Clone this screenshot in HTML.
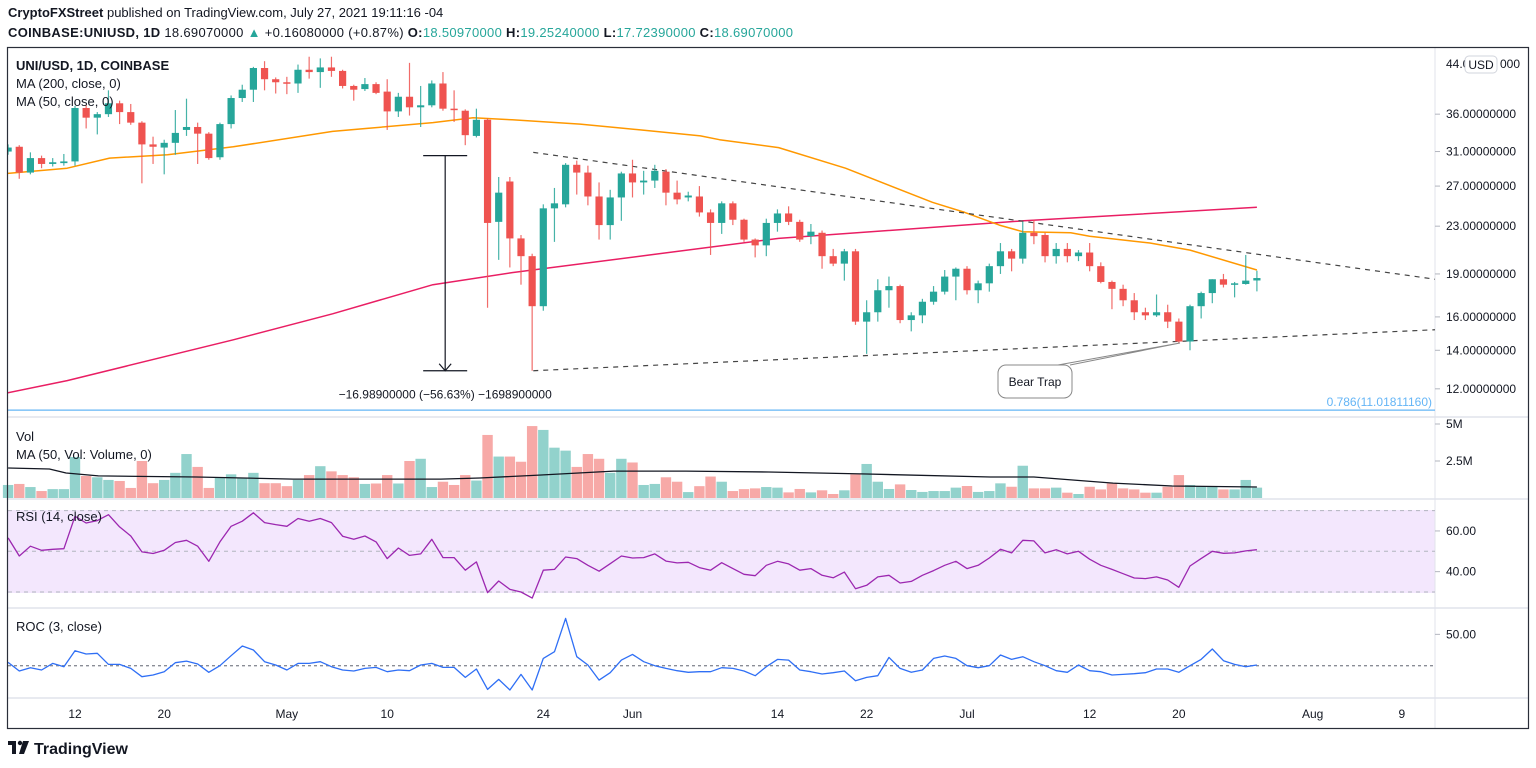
<!DOCTYPE html>
<html><head><meta charset="utf-8"><style>
html,body{margin:0;padding:0;background:#fff;}
svg{display:block;font-family:"Liberation Sans",sans-serif;}
</style></head><body>
<svg id="chart" width="1536" height="768" viewBox="0 0 1536 768" xmlns="http://www.w3.org/2000/svg">
<rect x="0" y="0" width="1536" height="768" fill="#fff"/>
<text x="8" y="17" font-size="13" fill="#131722"><tspan font-weight="bold">CryptoFXStreet</tspan> published on TradingView.com, July 27, 2021 19:11:16 -04</text>
<text x="8" y="37" font-size="13" fill="#131722" textLength="785" lengthAdjust="spacing"><tspan font-weight="bold">COINBASE:UNIUSD, 1D</tspan> 18.69070000 <tspan fill="#26a69a">▲</tspan> +0.16080000 (+0.87%) <tspan font-weight="bold">O:</tspan><tspan fill="#26a69a">18.50970000</tspan> <tspan font-weight="bold">H:</tspan><tspan fill="#26a69a">19.25240000</tspan> <tspan font-weight="bold">L:</tspan><tspan fill="#26a69a">17.72390000</tspan> <tspan font-weight="bold">C:</tspan><tspan fill="#26a69a">18.69070000</tspan></text>
<g id="grid"></g>
<g id="main" clip-path="url(#mainclip)"></g>
<g id="lower"></g>
<g id="axes"></g>
<defs><clipPath id="mainclip"><rect x="8" y="48" width="1427" height="368"/></clipPath></defs>
<rect x="7.5" y="47.5" width="1521" height="681" fill="none" stroke="#2a2e39" stroke-width="1.2"/>
<text x="16" y="70" font-size="13" font-weight="bold" fill="#131722">UNI/USD, 1D, COINBASE</text>
<text x="16" y="88" font-size="13" fill="#131722">MA (200, close, 0)</text>
<text x="16" y="106" font-size="13" fill="#131722">MA (50, close, 0)</text>
<text x="16" y="441" font-size="13" fill="#131722">Vol</text>
<text x="16" y="459" font-size="13" fill="#131722">MA (50, Vol: Volume, 0)</text>
<text x="16" y="521" font-size="13" fill="#131722">RSI (14, close)</text>
<text x="16" y="631" font-size="13" fill="#131722">ROC (3, close)</text>
<g><rect x="1465" y="56" width="32" height="17" rx="4" fill="#fff" stroke="#d1d4dc"/><text x="1481" y="69" font-size="12" text-anchor="middle" fill="#131722">USD</text></g>
<g>
<path d="M1058 365 L1180 343 L1070 365" fill="#fff" stroke="#888" stroke-width="1"/>
<rect x="998" y="365" width="74" height="33" rx="8" fill="#fff" stroke="#888"/>
<text x="1035" y="386" font-size="12" text-anchor="middle" fill="#131722">Bear Trap</text>
</g>
<g>
<rect x="8" y="741" width="8" height="4" fill="#131722"/><rect x="12" y="741" width="4" height="13" fill="#131722"/><circle cx="20" cy="743" r="2.2" fill="#131722"/><path d="M23 741 L29 741 L24 754 L19 754 Z" fill="#131722"/>
<text x="34" y="754" font-size="16" font-weight="bold" fill="#131722">TradingView</text>
</g>
</svg>
<script>
const opens=[31.0,31.6,28.5,30.2,29.5,29.6,29.8,36.9,35.5,36.0,37.6,36.3,34.8,31.9,31.5,32.1,33.8,34.2,33.3,30.3,34.6,38.4,39.7,43.3,41.4,40.9,40.7,43.0,42.6,43.4,42.8,40.3,39.8,40.6,39.4,36.4,38.6,37.0,37.3,40.7,36.8,36.5,33.0,35.2,23.4,27.5,21.9,20.4,16.7,24.7,25.1,29.4,28.5,25.9,23.1,25.8,28.4,27.4,27.6,28.6,26.3,25.8,25.9,24.3,23.3,25.2,23.6,21.8,21.3,23.3,24.2,23.4,22.1,22.4,20.4,19.8,20.8,15.7,16.3,17.8,18.1,15.8,16.1,17.0,17.7,18.8,19.4,17.8,18.3,19.6,20.8,20.2,22.4,22.2,20.4,21.0,20.4,20.7,19.6,18.4,17.9,17.1,16.3,16.1,16.3,15.7,14.5,16.7,17.6,18.6,18.2,18.25,18.51];
const closes=[31.5,28.5,30.2,29.5,29.7,29.8,36.9,35.5,36.0,37.6,36.3,34.8,31.9,31.6,32.1,33.4,34.2,33.3,30.2,34.6,38.4,39.7,43.3,41.4,40.9,40.7,43.0,42.6,43.4,42.8,40.3,39.7,40.6,39.2,36.4,38.6,37.0,37.3,40.7,36.8,36.6,33.1,35.2,23.3,26.3,21.9,20.4,16.7,24.7,25.2,29.4,28.5,25.9,23.1,25.8,28.4,27.4,27.6,28.7,26.3,25.6,26.0,24.3,23.3,25.2,23.6,21.8,21.3,23.3,24.2,23.4,21.8,22.5,20.4,19.8,20.8,15.7,16.3,17.8,18.1,15.8,16.1,17.0,17.7,18.8,19.4,17.8,18.3,19.6,20.8,20.2,22.4,22.1,20.4,21.0,20.4,20.7,19.6,18.4,17.9,17.1,16.3,16.1,16.3,15.7,14.5,16.7,17.6,18.6,18.2,18.3,18.5,18.69];
const highs=[31.9,31.8,30.9,30.5,30.2,30.7,37.2,37.3,36.3,39.6,38.0,37.5,35.0,32.9,32.5,36.6,38.3,34.8,33.5,34.8,38.8,40.5,43.5,44.5,41.7,41.8,43.9,45.3,45.0,45.3,43.0,40.5,41.6,40.9,41.4,39.2,44.2,40.3,41.2,42.6,39.6,36.7,36.8,35.4,28.0,28.0,22.2,20.6,25.1,26.8,29.6,29.9,29.3,27.4,26.6,28.6,30.0,28.7,29.4,28.9,27.6,26.4,27.0,24.6,25.4,25.4,23.7,21.9,23.7,24.6,24.9,23.6,23.2,22.6,21.0,21.0,21.0,17.1,18.6,18.8,18.2,16.3,17.2,18.1,19.3,19.5,19.6,18.5,19.8,21.5,21.0,23.4,23.6,22.4,21.5,21.5,20.9,21.5,19.9,18.5,18.2,17.6,16.6,17.5,16.8,15.9,16.8,17.7,18.6,19.0,18.4,20.5,19.25];
const lows=[30.6,27.8,28.3,29.0,29.2,29.3,29.3,34.0,33.2,35.6,34.6,34.5,27.3,29.5,28.3,30.6,33.0,29.5,30.0,30.0,34.0,37.8,37.8,39.6,39.1,39.0,39.2,41.5,40.0,41.8,39.9,38.0,39.5,39.0,33.8,35.6,35.8,34.2,37.0,36.5,34.9,31.8,32.8,16.6,20.1,19.5,18.2,12.9,16.4,21.6,24.8,26.1,25.0,21.8,21.8,23.5,25.8,26.1,26.8,25.0,25.1,25.4,23.9,20.5,22.3,23.1,21.6,20.3,20.4,22.5,23.1,21.6,21.4,19.4,19.6,18.5,15.5,13.8,15.7,16.6,15.6,15.1,15.6,16.8,17.5,17.1,17.5,16.9,17.7,19.0,19.2,19.8,21.4,19.9,19.8,19.9,20.0,19.2,18.3,16.5,16.7,15.8,15.8,16.0,15.3,14.4,14.0,15.9,16.9,18.0,17.3,18.2,17.72];
const volumes=[0.88,0.95,0.74,0.47,0.6,0.6,2.77,1.49,1.4,1.22,1.15,0.68,2.5,1.0,1.22,1.7,2.97,2.1,0.68,1.4,1.6,1.35,1.7,1.0,1.0,0.8,1.22,1.55,2.15,1.8,1.55,1.4,0.95,0.98,1.55,0.98,2.5,2.65,0.74,1.1,0.88,1.55,1.18,4.26,2.8,2.8,2.45,4.86,4.6,3.4,3.2,2.1,2.97,2.65,1.7,2.65,2.4,0.88,0.95,1.4,1.1,0.4,0.8,1.45,1.1,0.47,0.6,0.65,0.74,0.70,0.38,0.61,0.38,0.52,0.27,0.52,1.6,2.3,1.1,0.61,0.92,0.54,0.41,0.47,0.47,0.70,0.81,0.41,0.47,0.99,0.76,2.18,0.65,0.65,0.70,0.36,0.27,0.76,0.58,0.99,0.65,0.58,0.36,0.36,0.76,1.55,0.88,0.81,0.81,0.58,0.58,1.22,0.70];
const rsiValues=[56.6,47.7,52.5,50.5,51.0,51.3,67.2,63.9,65.1,68.0,62.0,57.5,49.7,48.9,50.5,54.3,55.4,52.5,45.1,54.6,62.3,64.8,68.9,64.1,63.1,62.3,66.1,64.8,66.1,64.1,57.4,55.9,57.5,54.6,46.4,51.6,48.0,48.7,55.9,46.9,46.9,40.7,44.8,29.7,35.4,31.3,30.0,27.0,40.7,41.1,47.2,46.4,43.1,40.2,43.9,47.7,46.7,46.9,48.7,45.2,44.3,44.6,42.0,40.7,44.4,41.5,38.7,38.0,43.1,45.1,43.8,40.7,41.5,38.2,37.0,39.8,31.6,33.3,37.4,38.2,34.4,35.2,38.2,40.5,43.1,45.1,41.5,43.1,46.7,51.0,49.2,55.4,55.1,49.2,50.8,48.7,50.0,46.1,43.1,41.1,39.0,36.9,36.6,37.4,35.9,32.3,42.8,46.4,50.0,49.0,49.2,50.2,50.8];
const rocValues=[5.3,-8.5,-3.2,-6.9,3.7,-1.6,23.9,18.6,19.7,2.1,2.1,-4.3,-17.6,-14.9,-9.6,4.8,7.4,2.7,-10.6,0,16.0,31.4,25.0,6.4,1.1,-6.9,3.7,3.7,6.4,-1.6,-6.9,-8.5,-4.3,-2.7,-9.6,-6.9,-8.0,1.1,3.7,-2.7,-2.7,-18.6,-5.3,-37.8,-21.8,-38.8,-13.8,-38.8,11.7,22.3,75.5,14.4,1.1,-22.9,-11.2,9.0,18.1,6.4,0,-4.3,-8.0,-10.6,-9.6,-9.6,-3.2,-4.3,-8.5,-16.0,-1.6,10.1,9.0,-6.9,-9.6,-13.3,-11.2,-8.5,-23.9,-18.6,-16.0,13.3,-4.3,-10.6,-6.9,11.7,15.4,11.7,0,-3.2,0,17.0,10.1,14.4,6.4,0,-8.0,-10.6,1.1,-8.0,-9.6,-14.9,-13.8,-12.8,-11.2,-5.3,-5.3,-10.6,0,10.1,26.6,8.0,2.1,-1.6,1.1];
const ma50Days=[-0.1,5.3,9.1,14.3,20.2,29.1,38.1,41.7,45.2,51.3,56.7,62.1,63.8,69.1,75.1,82.9,85.8,88.9,91,95.3,97,102.4,106,112];
const ma50Values=[28.4,29.0,30.2,30.6,31.6,33.6,34.8,35.5,35.2,34.6,33.8,33.0,32.5,31.5,29.0,25.3,24.3,23.1,22.5,22.4,22.1,21.5,20.9,19.3];
const ma200Days=[-0.1,5.3,20.2,29.1,38.1,45.2,69.1,91.1,112];
const ma200Values=[11.8,12.4,14.6,16.2,18.2,19.1,21.9,23.5,24.8];
const volMaDays=[0,3.7,5.2,8.1,16.9,25.6,38.8,42.3,47.6,54.3,60.8,68.2,77,88.1,92,99.1,104.4,112];
const volMaValues=[2.03,1.96,1.69,1.49,1.42,1.28,1.28,1.35,1.55,1.82,1.82,1.76,1.62,1.42,1.42,1.01,0.81,0.74];
const priceTicks=[44,36,31,27,23,19,16,14,12];
const volTicks=[5,2.5];
const volTickLabels=["5M","2.5M"];
const rsiTicks=[60,40];
const rocTicks=[50];
const dateTickDays=[6,14,25,34,48,56,69,77,86,97,105,117,125];
const dateTickLabels=["12","20","May","10","24","Jun","14","22","Jul","12","20","Aug","9"];
const upperTrend=[[47.1,30.9],[128,18.6]];
const lowerTrend=[[47.1,12.9],[128,15.2]];
const measure=[39.2,30.5,12.9];
const fibLevel=11.01811160;

const NS="http://www.w3.org/2000/svg";
const X=d=>8.1+11.15*d;
const YP=p=>64+250*Math.log(44/p);
const YV=v=>498-v*14.8;
const YR=r=>551.3-(r-50)*2.035;
const YC=c=>665.7-c*0.627;
function mk(parent,tag,attrs){const e=document.createElementNS(NS,tag);for(const k in attrs)e.setAttribute(k,attrs[k]);parent.appendChild(e);return e;}
const grid=document.getElementById('grid'),main=document.getElementById('main'),lower=document.getElementById('lower'),axes=document.getElementById('axes');

let e;
e=mk(grid,'rect',{x:8,y:510,width:1427,height:83,fill:'#f3e7fd'});


[417,499,608,698].forEach(y=>{e=mk(grid,'line',{x1:8,x2:1528,y1:y,y2:y,stroke:'#e0e3eb','stroke-width':1.5});

});
e=mk(grid,'line',{x1:1435,x2:1435,y1:48,y2:728,stroke:'#e0e3eb','stroke-width':1});


[70,50,30].forEach(r=>{e=mk(grid,'line',{x1:8,x2:1435,y1:YR(r),y2:YR(r),stroke:'#b2b5be','stroke-dasharray':'4 4','stroke-width':1});

});
e=mk(grid,'line',{x1:8,x2:1435,y1:YC(0),y2:YC(0),stroke:'#8a8d96','stroke-dasharray':'3 3','stroke-width':1.3});



e=mk(main,'line',{x1:8,x2:1435,y1:YP(fibLevel),y2:YP(fibLevel),stroke:'#64b5f6','stroke-width':1.2});


e=mk(axes,'text',{x:1432,y:YP(fibLevel)-4,'font-size':12,'text-anchor':'end',fill:'#64b5f6'});
e.textContent='0.786('+fibLevel.toFixed(8)+')';



function line(parent,days,vals,yf,color,w,name){
  const pts=days.map((d,i)=>X(d).toFixed(1)+','+yf(vals[i]).toFixed(1)).join(' ');
  const p=mk(parent,'polyline',{points:pts,fill:'none',stroke:color,'stroke-width':w,'stroke-linejoin':'round'});
  
  
  return p;
}
line(main,ma200Days,ma200Values,YP,'#e91e63',1.5,'ma200-line');
line(main,ma50Days,ma50Values,YP,'#ff9800',1.5,'ma50-line');

[[upperTrend,'upper-trendline'],[lowerTrend,'lower-trendline']].forEach(([t,n])=>{
  e=mk(main,'line',{x1:X(t[0][0]),y1:YP(t[0][1]),x2:X(t[1][0]),y2:YP(t[1][1]),stroke:'#444','stroke-dasharray':'5 5','stroke-width':1.2});
  
  
});
const mx=X(measure[0]),my1=YP(measure[1]),my2=YP(measure[2]);
const mg=mk(main,'g',{stroke:'#131722','stroke-width':1.2,fill:'none'});


mk(mg,'line',{x1:mx-22,x2:mx+22,y1:my1,y2:my1});
mk(mg,'line',{x1:mx-22,x2:mx+22,y1:my2,y2:my2});
mk(mg,'line',{x1:mx,x2:mx,y1:my1,y2:my2});
mk(mg,'polyline',{points:(mx-6)+','+(my2-7)+' '+mx+','+my2+' '+(mx+6)+','+(my2-7)});
e=mk(main,'text',{x:mx,y:my2+28,'font-size':12,'text-anchor':'middle',fill:'#131722'});
e.textContent='\u221216.98900000 (\u221256.63%) \u22121698900000';



for(let i=0;i<opens.length;i++){
  const up=closes[i]>=opens[i];const col=up?'#26a69a':'#ef5350';const x=X(i);
  const g=mk(main,'g',{});
  
  
  mk(g,'line',{x1:x,x2:x,y1:YP(highs[i]),y2:YP(lows[i]),stroke:col,'stroke-width':1.2,opacity:0.85});
  const t=YP(Math.max(opens[i],closes[i])),b=YP(Math.min(opens[i],closes[i]));
  mk(g,'rect',{x:x-3.6,y:t,width:7.2,height:Math.max(1.5,b-t),fill:col});
  const v=mk(lower,'rect',{x:x-5.2,y:YV(volumes[i]),width:10.4,height:498-YV(volumes[i]),fill:up?'#92d2cc':'#f7a9a7'});
  
  
}
line(lower,volMaDays,volMaValues,YV,'#131722',1.3,'volume-ma-line');
line(lower,rsiValues.map((_,i)=>i),rsiValues,YR,'#9c27b0',1.3,'rsi-line');
line(lower,rocValues.map((_,i)=>i),rocValues,YC,'#2f6ff5',1.3,'roc-line');

function lab(x,y,t,name,anchor){const el=mk(axes,'text',{x:x,y:y,'font-size':12,fill:'#131722','text-anchor':anchor||'start'});el.textContent=t;


mk(axes,'line',{x1:1435,x2:1440,y1:y-4,y2:y-4,stroke:'#b2b5be'});return el;}
priceTicks.forEach(p=>{ if(p===44){const el=mk(axes,'text',{x:1446,y:YP(p)+4,'font-size':12,fill:'#131722'});el.textContent='44.0';const el2=mk(axes,'text',{x:1500,y:YP(p)+4,'font-size':12,fill:'#131722'});el2.textContent='000';} else lab(1446,YP(p)+4,p.toFixed(8),'price-tick-label');});
volTicks.forEach((v,i)=>lab(1446,YV(v)+4,volTickLabels[i],'volume-tick-label'));
rsiTicks.forEach(r=>lab(1446,YR(r)+4,r.toFixed(2),'rsi-tick-label'));
rocTicks.forEach(r=>lab(1446,YC(r)+4,r.toFixed(2),'roc-tick-label'));
dateTickDays.forEach((d,i)=>{const el=mk(axes,'text',{x:X(d),y:718,'font-size':12,fill:'#131722','text-anchor':'middle'});el.textContent=dateTickLabels[i];

});
</script>
</body></html>
